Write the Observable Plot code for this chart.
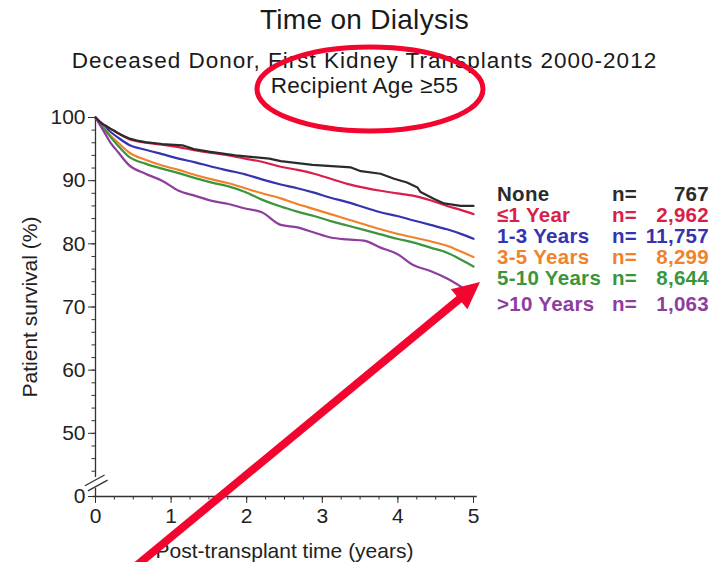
<!DOCTYPE html>
<html>
<head>
<meta charset="utf-8">
<script src="https://cdn.jsdelivr.net/npm/d3@7"></script>
<script src="https://cdn.jsdelivr.net/npm/@observablehq/plot@0.6"></script>
<style>
  body { margin: 0; background: #fff; }
  #wrap { position: relative; width: 717px; height: 562px; overflow: hidden; font-family: Arial, "Liberation Sans", Helvetica, sans-serif; color: #1a1a1a; }
  #head { position: relative; height: 100px; }
  .t { position: absolute; left: 6px; width: 717px; text-align: center; white-space: nowrap; line-height: 1; }
  #title { top: 6px; font-size: 28px; letter-spacing: 0.3px; }
  #sub1 { top: 50px; font-size: 22.5px; letter-spacing: 1.0px; }
  #sub2 { top: 75px; font-size: 22.5px; letter-spacing: 0.3px; }
  #legend { position: absolute; left: 497px; top: 183px; width: 212px; font-weight: bold; font-size: 20.5px; line-height: 21px; letter-spacing: 0.3px; }
  .row { display: flex; white-space: nowrap; }
  .row .lab { width: 115px; }
  .row .n { flex: 1; display: flex; }
  .row .n .num { flex: 1; text-align: right; }
  .row.last { margin-top: 5px; }
  #anno { position: absolute; left: 0; top: 0; pointer-events: none; }
</style>
</head>
<body>
<div id="wrap">
  <div id="head">
    <div class="t" id="title">Time on Dialysis</div>
    <div class="t" id="sub1">Deceased Donor, First Kidney Transplants 2000-2012</div>
    <div class="t" id="sub2">Recipient Age ≥55</div>
  </div>
  <div id="chart"></div>
  <div id="legend"></div>
  <svg id="anno" width="717" height="562"></svg>
</div>
<script>
// ---- data ----
const groups = ["None", "≤1 Year", "1-3 Years", "3-5 Years", "5-10 Years", ">10 Years"];
const counts = ["767", "2,962", "11,757", "8,299", "8,644", "1,063"];
const colors = ["#2b2b2b", "#d91f48", "#3434ae", "#f0822c", "#3b953b", "#8e3d9e"];

// "None" curve (own time points, Kaplan-Meier steps)
const noneTimes = [0, 0.05, 0.1, 0.15, 0.2, 0.25, 0.3, 0.35, 0.44, 0.55, 0.66, 0.88, 1.15, 1.3, 1.5, 1.85, 2.3, 2.45, 2.87, 3.38, 3.51, 3.77, 3.95, 4.12, 4.26, 4.3, 4.48, 4.61, 4.83, 5.0];
const noneSurv  = [100, 99.4, 98.9, 98.6, 98.2, 97.9, 97.5, 97.2, 96.7, 96.35, 96.1, 95.8, 95.6, 95.0, 94.6, 94.0, 93.5, 93.1, 92.5, 92.1, 91.5, 91.1, 90.3, 89.7, 88.9, 88.2, 87.1, 86.4, 86.0, 86.0];

// other curves on a shared time grid (years)
const timeGrid   = [0, 0.05, 0.1, 0.2, 0.3, 0.44, 0.66, 0.88, 1.1, 1.32, 1.54, 1.76, 1.98, 2.2, 2.45, 2.67, 2.89, 3.11, 3.33, 3.55, 3.77, 3.99, 4.21, 4.43, 4.65, 4.85, 5.0];
const le1Surv    = [100, 99.4, 98.9, 98.2, 97.5, 96.6, 96.0, 95.7, 95.3, 94.8, 94.4, 94.0, 93.5, 93.0, 92.2, 91.7, 91.1, 90.3, 89.5, 88.9, 88.4, 88.0, 87.6, 86.9, 86.0, 85.3, 84.7];
const y1to3Surv  = [100, 99.4, 98.8, 97.7, 96.8, 95.7, 94.9, 94.2, 93.5, 92.9, 92.2, 91.6, 91.0, 90.2, 89.4, 88.8, 88.1, 87.3, 86.6, 85.8, 85.0, 84.4, 83.7, 83.0, 82.3, 81.5, 80.8];
const y3to5Surv  = [100, 99.3, 98.6, 97.1, 96.0, 94.5, 93.3, 92.4, 91.7, 90.9, 90.2, 89.6, 88.8, 88.0, 87.2, 86.3, 85.5, 84.7, 83.9, 83.1, 82.3, 81.6, 81.0, 80.4, 79.7, 78.7, 77.9];
const y5to10Surv = [100, 99.2, 98.4, 96.9, 95.5, 93.8, 92.7, 91.9, 91.2, 90.4, 89.7, 89.1, 88.2, 87.0, 85.9, 85.1, 84.4, 83.6, 82.9, 82.2, 81.5, 80.8, 80.2, 79.4, 78.6, 77.4, 76.4];
const gt10Surv   = [100, 99.0, 98.0, 96.0, 94.5, 92.5, 91.1, 90.0, 88.4, 87.6, 86.8, 86.3, 85.6, 85.0, 83.0, 82.6, 81.8, 81.0, 80.7, 80.5, 79.4, 78.4, 76.6, 75.7, 74.5, 73.1, null];

const xMajorTicks = [0, 1, 2, 3, 4, 5];
const xMinorTicks = d3.range(0, 5.001, 0.25);
const yMajorTicks = [40, 50, 60, 70, 80, 90, 100];   // 40 is printed as the "0" below the axis break
const yMinorTicks = d3.range(44, 100.001, 2);

// ---- tables for the library ----
const noneRows = noneTimes.map((t, i) => ({group: groups[0], t, v: noneSurv[i]}));
const smoothRows = [];
[le1Surv, y1to3Surv, y3to5Surv, y5to10Surv, gt10Surv].forEach((arr, k) => {
  arr.forEach((v, i) => smoothRows.push({group: groups[k + 1], t: timeGrid[i], v}));
});

const axisColor = "#333";
const breakMarks = [
  {x1: -0.14, y1: 41.7, x2: 0.12, y2: 43.4},
  {x1: -0.10, y1: 40.9, x2: 0.16, y2: 42.6}
];

const chart = Plot.plot({
  width: 717,
  height: 462,
  marginTop: 17,
  marginBottom: 66,
  marginLeft: 95,
  marginRight: 244,
  style: {fontFamily: 'Arial, "Liberation Sans", Helvetica, sans-serif', fontSize: "21px", color: "#222", background: "transparent", overflow: "visible"},
  x: {domain: [0, 5]},
  y: {domain: [40, 100]},
  color: {domain: groups, range: colors},
  marks: [
    Plot.axisY({ticks: yMajorTicks, tickSize: 7, tickPadding: 3, tickFormat: d => d === 40 ? "0" : String(d),
      label: "Patient survival (%)", labelAnchor: "center", labelOffset: 73, labelArrow: "none", stroke: axisColor}),
    Plot.axisY({ticks: yMinorTicks, tickSize: 3.5, tickFormat: () => "", label: null, stroke: axisColor}),
    Plot.axisX({ticks: xMajorTicks, tickSize: 7, tickPadding: 5, tickFormat: d => String(d),
      label: "Post-transplant time (years)", labelAnchor: "center", labelOffset: 61, labelArrow: "none", stroke: axisColor}),
    Plot.axisX({ticks: xMinorTicks, tickSize: 3.5, tickFormat: () => "", label: null, stroke: axisColor}),
    Plot.ruleX([0], {y1: 43.0, y2: 100, stroke: axisColor, strokeWidth: 1.3}),
    Plot.ruleX([0], {y1: 40, y2: 41.3, stroke: axisColor, strokeWidth: 1.3}),
    Plot.ruleY([40], {x1: -0.03, x2: 5.05, stroke: axisColor, strokeWidth: 1.3}),
    Plot.link(breakMarks, {x1: "x1", y1: "y1", x2: "x2", y2: "y2", stroke: axisColor, strokeWidth: 1.3}),
    Plot.line(smoothRows, {x: "t", y: "v", z: "group", stroke: "group", strokeWidth: 2.2, curve: "monotone-x"}),
    Plot.line(noneRows, {x: "t", y: "v", stroke: colors[0], strokeWidth: 2.2})
  ]
});
document.getElementById("chart").appendChild(chart);

// ---- legend ----
const legend = document.getElementById("legend");
groups.forEach((g, i) => {
  const row = document.createElement("div");
  row.className = "row" + (i === groups.length - 1 ? " last" : "");
  row.style.color = colors[i];
  row.innerHTML = `<span class="lab"></span><span class="n"><span>n=</span><span class="num"></span></span>`;
  row.querySelector(".lab").textContent = g;
  row.querySelector(".num").textContent = counts[i];
  legend.appendChild(row);
});

// ---- red annotations drawn over the chart ----
const anno = d3.select("#anno");
anno.append("ellipse").attr("cx", 370).attr("cy", 89).attr("rx", 113).attr("ry", 42)
  .attr("fill", "none").attr("stroke", "#f2052e").attr("stroke-width", 5);
const tip = [480, 282], tail = [136, 566];
const ddx = tip[0] - tail[0], ddy = tip[1] - tail[1], L = Math.hypot(ddx, ddy);
const ux = ddx / L, uy = ddy / L, px = -uy, py = ux;
const headLen = 27, headHalf = 13;
const base = [tip[0] - headLen * ux, tip[1] - headLen * uy];
anno.append("line").attr("x1", tail[0]).attr("y1", tail[1]).attr("x2", base[0] + 2 * ux).attr("y2", base[1] + 2 * uy)
  .attr("stroke", "#f2052e").attr("stroke-width", 8);
anno.append("polygon")
  .attr("points", [tip, [base[0] + headHalf * px, base[1] + headHalf * py], [base[0] - headHalf * px, base[1] - headHalf * py]].map(p => p.join(",")).join(" "))
  .attr("fill", "#f2052e");
</script>
</body>
</html>
